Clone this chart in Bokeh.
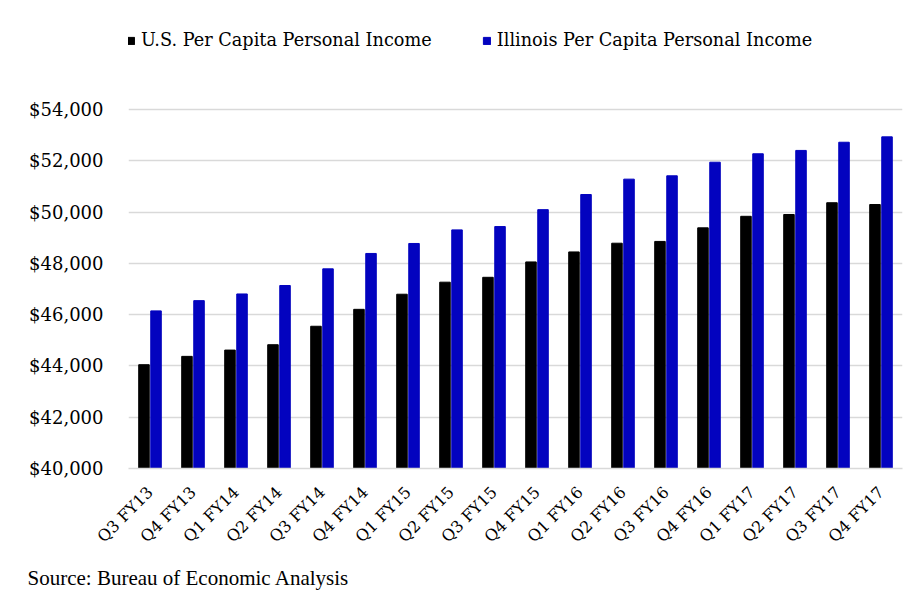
from bokeh.plotting import figure
from bokeh.models import (ColumnDataSource, Legend, LegendItem, NumeralTickFormatter,
                          FixedTicker, Title)
from bokeh.transform import dodge
from bokeh.embed import file_html
from bokeh.resources import INLINE

quarters = ["Q3 FY13", "Q4 FY13", "Q1 FY14", "Q2 FY14", "Q3 FY14", "Q4 FY14",
            "Q1 FY15", "Q2 FY15", "Q3 FY15", "Q4 FY15", "Q1 FY16", "Q2 FY16",
            "Q3 FY16", "Q4 FY16", "Q1 FY17", "Q2 FY17", "Q3 FY17", "Q4 FY17"]
us_income = [44050, 44375, 44620, 44830, 45550, 46210, 46800, 47270, 47460,
             48060, 48450, 48790, 48860, 49390, 49840, 49910, 50370, 50300]
il_income = [46150, 46550, 46810, 47140, 47790, 48390, 48780, 49310, 49440,
             50100, 50690, 51290, 51420, 51950, 52280, 52410, 52730, 52940]
y_ticks = [40000, 42000, 44000, 46000, 48000, 50000, 52000, 54000]

src = ColumnDataSource(dict(q=quarters, us=us_income, il=il_income))

SERIF = "DejaVu Serif"

# frame extends above the $54,000 line to hold the legend
p = figure(x_range=quarters, y_range=(40000, 57870), width=912, height=599,
           output_backend="svg", toolbar_location=None,
           min_border_left=128, min_border_right=10, min_border_top=10,
           min_border_bottom=131)
p.outline_line_color = None
p.background_fill_color = "white"
p.border_fill_color = "white"

r_us = p.vbar(x=dodge("q", -0.14, range=p.x_range), top="us", bottom=40000,
              width=0.245, source=src, fill_color="#000000", line_color="#000000")
r_il = p.vbar(x=dodge("q", 0.14, range=p.x_range), top="il", bottom=40000,
              width=0.245, source=src, fill_color="#0303BF", line_color="#0303BF")

p.xgrid.grid_line_color = None
p.ygrid.grid_line_color = "#D9D9D9"
p.ygrid.grid_line_width = 1.5
p.yaxis.ticker = FixedTicker(ticks=y_ticks)
p.yaxis.formatter = NumeralTickFormatter(format="$0,0")
p.yaxis.axis_line_color = None
p.yaxis.major_tick_line_color = None
p.yaxis.minor_tick_line_color = None
p.yaxis.major_label_standoff = 19
p.yaxis.major_label_text_font = SERIF
p.yaxis.major_label_text_font_size = "18px"
p.yaxis.major_label_text_color = "#000000"

p.xaxis.axis_line_color = "#D9D9D9"
p.xaxis.axis_line_width = 1.5
p.xaxis.major_tick_line_color = None
p.xaxis.minor_tick_line_color = None
p.xaxis.major_label_orientation = 0.785398
p.xaxis.major_label_standoff = 15
p.xaxis.major_label_text_font = SERIF
p.xaxis.major_label_text_font_size = "16px"
p.xaxis.major_label_text_color = "#000000"

legend = Legend(items=[LegendItem(label="U.S. Per Capita Personal Income", renderers=[r_us]),
                       LegendItem(label="Illinois Per Capita Personal Income", renderers=[r_il])],
                orientation="horizontal", location=(-2, 418), padding=0, margin=0,
                spacing=50, label_standoff=6, glyph_width=9, glyph_height=9,
                label_text_font=SERIF, label_text_font_size="17.7px",
                label_text_color="#000000",
                border_line_color=None, background_fill_alpha=0)
p.add_layout(legend, "center")

source_title = Title(text="Source: Bureau of Economic Analysis", align="left", offset=-101,
                     text_font="Liberation Serif", text_font_size="21px",
                     text_font_style="normal", text_color="#000000", standoff=17)
p.add_layout(source_title, "below")

open("out.html", "w").write(file_html(p, INLINE))
